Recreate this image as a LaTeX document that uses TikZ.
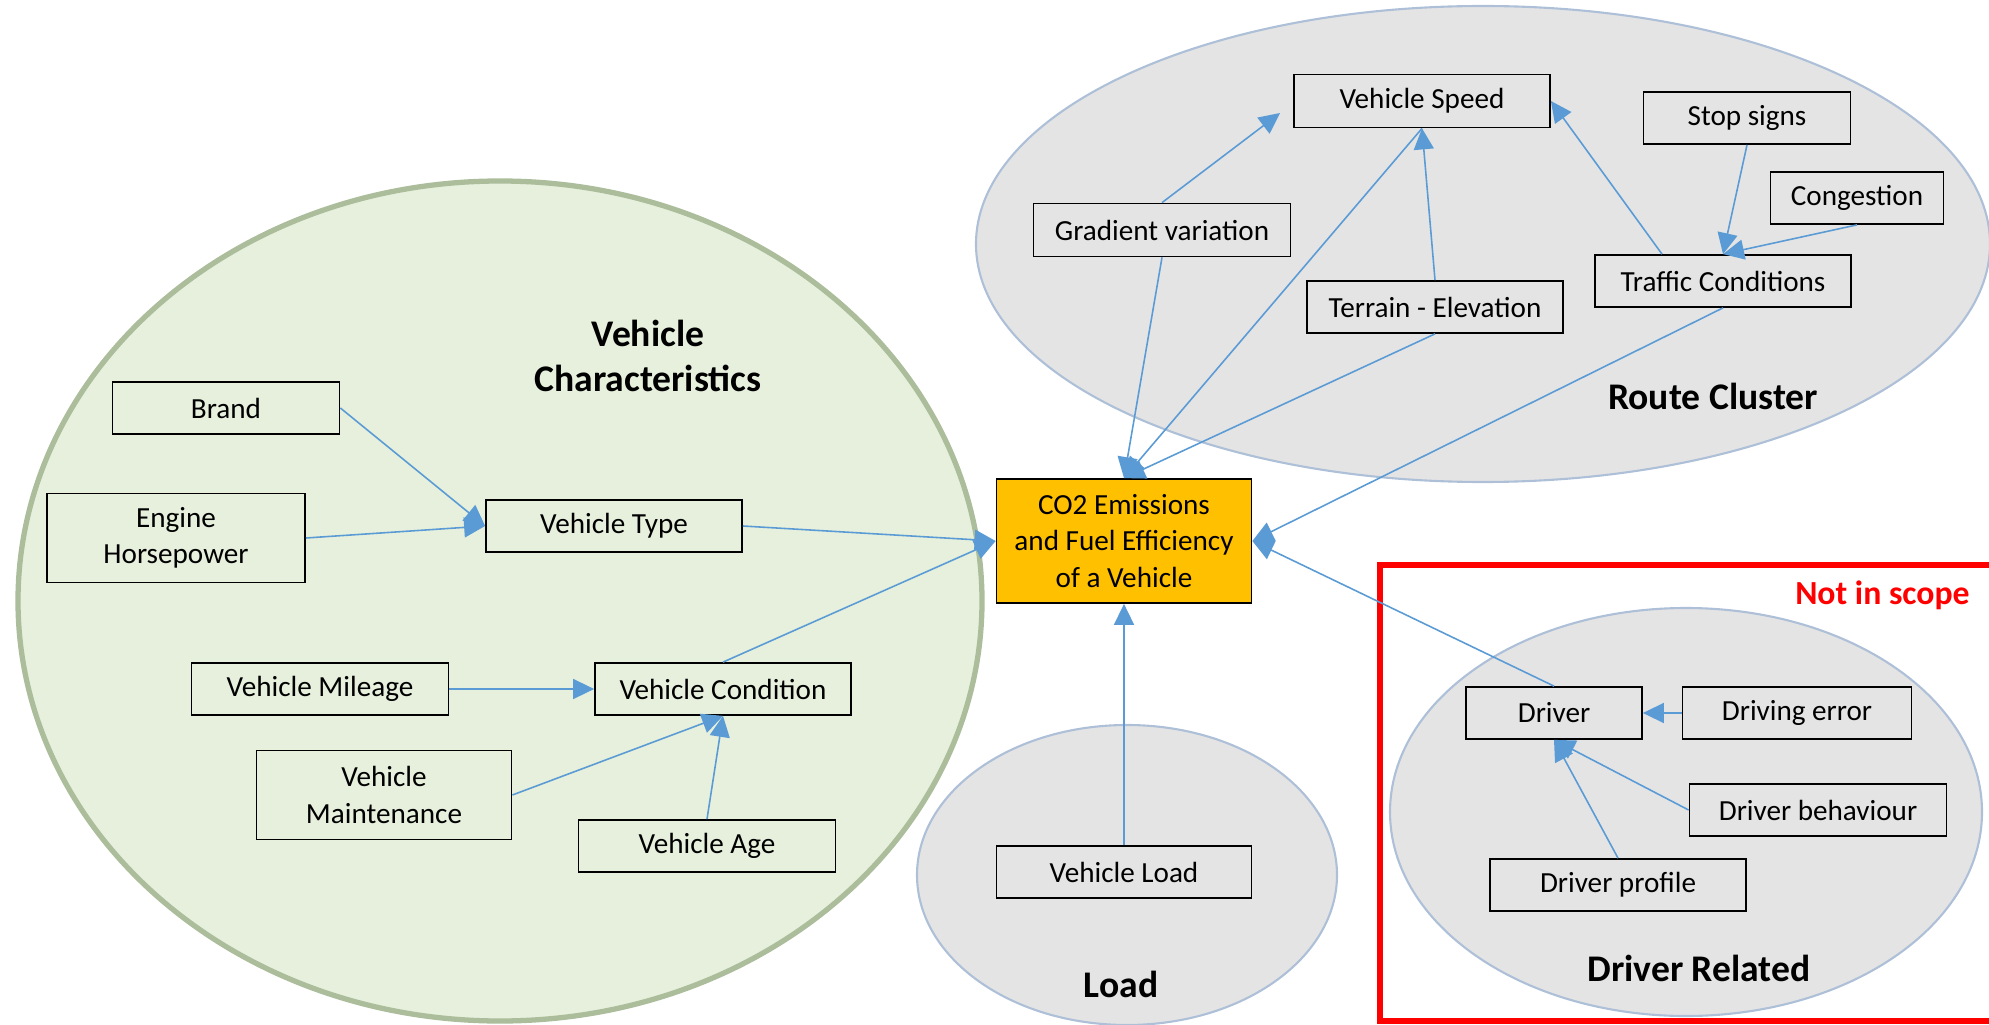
\documentclass[tikz,border=0pt]{standalone}
\usepackage{fontspec}
\setmainfont{Carlito}
\usetikzlibrary{arrows.meta}

\definecolor{verdechiaro}{HTML}{E6F0DC}
\definecolor{verdebordo}{HTML}{ABBD9A}
\definecolor{grigiochiaro}{HTML}{E4E4E4}
\definecolor{grigiobordo}{HTML}{ADC0D8}
\definecolor{bluefreccia}{HTML}{5B9BD5}
\definecolor{arancio}{HTML}{FFC000}

\begin{document}
\begin{tikzpicture}
				% Stili per i riquadri, le frecce e i titoli
				\tikzset{riquadro/.style={rectangle, draw, line width=0.5pt, minimum height=0.52cm, inner sep=0pt, align=center, font=\fontsize{8.3}{10.4}\selectfont},
					freccia/.style={draw=bluefreccia, line width=0.45pt, -{Triangle[length=0.21cm, width=0.2cm]}},
					titolo/.style={align=center, font=\fontsize{10.7}{12.6}\selectfont\bfseries}}
				
				\useasboundingbox (0,0) rectangle (19.89,10.24);
				\clip (0,0) rectangle (19.89,10.24);
				
				% Gruppi (ellissi)
				\draw[fill=verdechiaro, draw=verdebordo, line width=1.5pt] (5.00,4.23) ellipse (4.82 and 4.20);
				\draw[fill=grigiochiaro, draw=grigiobordo, line width=0.6pt] (14.83,7.80) ellipse (5.07 and 2.38);
				\draw[fill=grigiochiaro, draw=grigiobordo, line width=0.6pt] (11.27,1.49) ellipse (2.10 and 1.50);
				\draw[draw=red, line width=1.5pt] (13.80,0.03) rectangle (20.30,4.59);
				\draw[fill=grigiochiaro, draw=grigiobordo, line width=0.6pt] (16.86,2.12) ellipse (2.96 and 2.04);
				
				% Titoli
				\node[titolo] (tveicolo) at (6.48,6.68) {Vehicle\\Characteristics};
				\node[titolo] (tpercorso) at (17.13,6.28) {Route Cluster};
				\node[titolo] (tcarico) at (11.21,0.40) {Load};
				\node[titolo] (tguidatore) at (16.99,0.56) {Driver Related};
				\node[anchor=east, text=red, font=\fontsize{9.6}{11}\selectfont\bfseries] (fuori) at (19.82,4.29) {Not in scope};
				
				% Nodi
				\node[riquadro, minimum width=2.27cm] (brand) at (2.26,6.16) {Brand};
				\node[riquadro, minimum width=2.58cm, minimum height=0.89cm] (engine) at (1.76,4.86) {Engine\\Horsepower};
				\node[riquadro, minimum width=2.56cm] (vtype) at (6.14,4.98) {Vehicle Type};
				\node[riquadro, minimum width=2.57cm] (mileage) at (3.20,3.35) {Vehicle Mileage};
				\node[riquadro, minimum width=2.56cm] (vcond) at (7.23,3.35) {Vehicle Condition};
				\node[riquadro, minimum width=2.55cm, minimum height=0.89cm] (maint) at (3.84,2.29) {Vehicle\\Maintenance};
				\node[riquadro, minimum width=2.57cm] (vage) at (7.07,1.78) {Vehicle Age};
				\node[riquadro, fill=arancio, minimum width=2.55cm, minimum height=1.24cm] (co2) at (11.24,4.83) {CO2 Emissions\\and Fuel Efficiency\\of a Vehicle};
				\node[riquadro, minimum width=2.55cm] (vload) at (11.24,1.52) {Vehicle Load};
				\node[riquadro, minimum width=1.76cm] (driver) at (15.54,3.11) {Driver};
				\node[riquadro, minimum width=2.29cm] (derror) at (17.97,3.11) {Driving error};
				\node[riquadro, minimum width=2.57cm] (dbehav) at (18.18,2.14) {Driver behaviour};
				\node[riquadro, minimum width=2.56cm] (dprofile) at (16.18,1.39) {Driver profile};
				\node[riquadro, minimum width=2.56cm, minimum height=0.53cm] (vspeed) at (14.22,9.23) {Vehicle Speed};
				\node[riquadro, minimum width=2.07cm] (stop) at (17.47,9.06) {Stop signs};
				\node[riquadro, minimum width=1.73cm] (congestion) at (18.57,8.26) {Congestion};
				\node[riquadro, minimum width=2.57cm, minimum height=0.53cm] (gradient) at (11.62,7.94) {Gradient variation};
				\node[riquadro, minimum width=2.56cm] (terrain) at (14.35,7.17) {Terrain - Elevation};
				\node[riquadro, minimum width=2.56cm] (traffic) at (17.23,7.43) {Traffic Conditions};
				
				% Archi
				\draw[freccia] (brand.east) -- (vtype.west);
				\draw[freccia] (engine.east) -- (vtype.west);
				\draw[freccia] (vtype.east) -- (co2.west);
				\draw[freccia] (vcond.north) -- (co2.west);
				\draw[freccia] (mileage.east) -- (vcond.west);
				\draw[freccia] (maint.east) -- (vcond.south);
				\draw[freccia] (vage.north) -- (vcond.south);
				\draw[freccia] (vload.north) -- (co2.south);
				\draw[freccia] (driver.north) -- (co2.east);
				\draw[freccia] (derror.west) -- (driver.east);
				\draw[freccia] (dbehav.west) -- (driver.south);
				\draw[freccia] (dprofile.north) -- (driver.south);
				\draw[freccia] (traffic.south) -- (co2.east);
				\draw[freccia] (terrain.south) -- (co2.north);
				\draw[freccia] (gradient.south) -- (co2.north);
				\draw[freccia] (vspeed.south) -- (co2.north);
				\draw[freccia] (terrain.north) -- (vspeed.south);
				\draw[freccia] (gradient.north) -- ([xshift=-0.13cm, yshift=-0.12cm]vspeed.west);
				\draw[freccia] ([xshift=-0.61cm]traffic.north) -- (vspeed.east);
				\draw[freccia] (stop.south) -- (traffic.north);
				\draw[freccia] (congestion.south) -- (traffic.north);
			\end{tikzpicture}
\end{document}
